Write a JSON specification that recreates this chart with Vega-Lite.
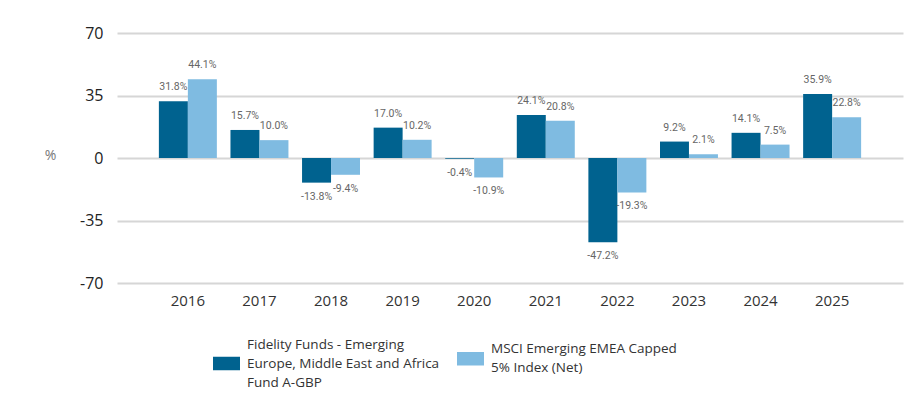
{
  "$schema": "https://vega.github.io/schema/vega-lite/v6.json",
  "autosize": "none",
  "width": 786,
  "height": 250,
  "padding": {"left": 117, "top": 33, "right": 20, "bottom": 122},
  "background": "white",
  "config": {
    "view": {"stroke": null},
    "font": "Open Sans"
  },
  "data": {
    "values": [
      {"year": "2016", "series": "Fund", "value": 31.8},
      {"year": "2016", "series": "Index", "value": 44.1},
      {"year": "2017", "series": "Fund", "value": 15.7},
      {"year": "2017", "series": "Index", "value": 10.0},
      {"year": "2018", "series": "Fund", "value": -13.8},
      {"year": "2018", "series": "Index", "value": -9.4},
      {"year": "2019", "series": "Fund", "value": 17.0},
      {"year": "2019", "series": "Index", "value": 10.2},
      {"year": "2020", "series": "Fund", "value": -0.4},
      {"year": "2020", "series": "Index", "value": -10.9},
      {"year": "2021", "series": "Fund", "value": 24.1},
      {"year": "2021", "series": "Index", "value": 20.8},
      {"year": "2022", "series": "Fund", "value": -47.2},
      {"year": "2022", "series": "Index", "value": -19.3},
      {"year": "2023", "series": "Fund", "value": 9.2},
      {"year": "2023", "series": "Index", "value": 2.1},
      {"year": "2024", "series": "Fund", "value": 14.1},
      {"year": "2024", "series": "Index", "value": 7.5},
      {"year": "2025", "series": "Fund", "value": 35.9},
      {"year": "2025", "series": "Index", "value": 22.8}
    ]
  },
  "transform": [
    {"calculate": "replace(format(datum.value, '.1f'), '\u2212', '-') + '%'", "as": "label"}
  ],
  "encoding": {
    "x": {
      "field": "year", "type": "nominal",
      "scale": {"paddingInner": 0.19, "paddingOuter": 0.585},
      "axis": {
        "title": null, "labelAngle": 0, "domain": false, "ticks": false,
        "labelFontSize": 15, "labelColor": "#333333", "labelPadding": 10,
        "labelFont": "Open Sans"
      }
    },
    "xOffset": {
      "field": "series", "type": "nominal",
      "scale": {"domain": ["Fund", "Index"], "paddingInner": 0, "paddingOuter": 0}
    },
    "y": {
      "field": "value", "type": "quantitative",
      "scale": {"domain": [-70, 70], "nice": false, "zero": false},
      "axis": {
        "values": [-70, -35, 0, 35, 70],
        "labelExpr": "replace(datum.label, '\u2212', '-')",
        "title": "%", "titleAngle": 0, "titleX": -67, "titleY": 129,
        "titleFontSize": 14, "titleFontWeight": "normal", "titleColor": "#777777",
        "titleFont": "Open Sans",
        "domain": false, "ticks": false,
        "labelFontSize": 16, "labelColor": "#222222", "labelPadding": 14,
        "labelFont": "Open Sans",
        "gridColor": "#d6d6d6", "gridWidth": 2
      }
    }
  },
  "layer": [
    {
      "mark": {"type": "bar"},
      "encoding": {
        "color": {
          "field": "series", "type": "nominal",
          "scale": {"domain": ["Fund", "Index"], "range": ["#00628f", "#7fbbe1"]},
          "legend": {
            "title": null,
            "orient": "none",
            "direction": "horizontal",
            "legendX": 96,
            "legendY": 312,
            "symbolType": "M-1,-0.5H1V0.5H-1Z",
            "symbolSize": 729,
            "symbolStrokeWidth": 0,
            "labelFontSize": 13.5,
            "labelColor": "#333333",
            "labelFont": "Open Sans",
            "labelLimit": 400,
            "labelOffset": 7,
            "columnPadding": 17,
            "labelExpr": "datum.label == 'Fund' ? ['Fidelity Funds - Emerging', 'Europe, Middle East and Africa', 'Fund A-GBP'] : ['MSCI Emerging EMEA Capped', '5% Index (Net)', '']",
            "encode": {"labels": {"update": {
              "lineHeight": {"value": 19},
              "dy": {"signal": "datum.value == 'Fund' ? -19 : -9.5"}
            }}}
          }
        }
      }
    },
    {
      "transform": [{"filter": "datum.value >= 0"}],
      "mark": {"type": "text", "baseline": "bottom", "dy": -9, "fontSize": 10.5, "color": "#666666", "font": "Roboto"},
      "encoding": {"text": {"field": "label"}}
    },
    {
      "transform": [{"filter": "datum.value < 0"}],
      "mark": {"type": "text", "baseline": "top", "dy": 9, "fontSize": 10.5, "color": "#666666", "font": "Roboto"},
      "encoding": {"text": {"field": "label"}}
    }
  ]
}
